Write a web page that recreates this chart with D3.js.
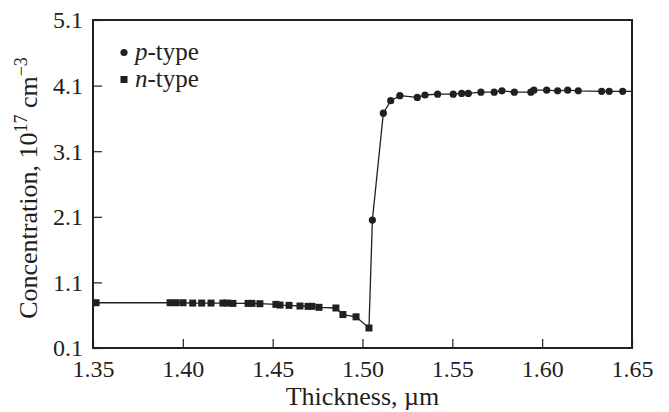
<!DOCTYPE html>
<html lang="en">
<head>
<meta charset="UTF-8">
<title>Concentration profile</title>
<script src="https://d3js.org/d3.v7.min.js"></script>
<style>
  body { margin: 0; background: #fff; }
</style>
</head>
<body>
<div id="chart"></div>
<script>
// tick values
const xTicks = [1.35, 1.40, 1.45, 1.50, 1.55, 1.60, 1.65];
const yTicks = [0.1, 1.1, 2.1, 3.1, 4.1, 5.1];

// n-type points (thickness in um, concentration in 1e17 cm^-3)
const nThickness = [1.3517, 1.3929, 1.3962, 1.4001, 1.4055, 1.4105, 1.4157, 1.4223, 1.4246, 1.4279,
                    1.4363, 1.4385, 1.4429, 1.4518, 1.4541, 1.4591, 1.4652, 1.4697, 1.4719, 1.4758,
                    1.4852, 1.4891, 1.4964, 1.5036];
const nConc = [0.79, 0.79, 0.79, 0.79, 0.785, 0.785, 0.785, 0.785, 0.785, 0.78,
               0.78, 0.78, 0.775, 0.765, 0.755, 0.75, 0.74, 0.735, 0.735, 0.72,
               0.71, 0.61, 0.575, 0.405];

// p-type points
const pThickness = [1.5055, 1.5116, 1.5157, 1.5208, 1.5305, 1.5348, 1.5418, 1.5505, 1.5552, 1.5589,
                    1.5659, 1.5733, 1.5776, 1.5845, 1.5937, 1.5954, 1.6025, 1.6086, 1.6142, 1.6201,
                    1.6331, 1.6373, 1.6448];
const pConc = [2.05, 3.68, 3.87, 3.946, 3.92, 3.957, 3.97, 3.97, 3.98, 3.98,
               4.0, 4.0, 4.02, 4.0, 4.0, 4.03, 4.03, 4.02, 4.03, 4.02,
               4.013, 4.013, 4.013];

const width = 669, height = 412;
const margin = {top: 20, right: 37, bottom: 64, left: 93};
const ink = "#231f20";
const serif = "'Liberation Serif', 'Times New Roman', Times, serif";

const svg = d3.select("#chart").append("svg")
    .attr("width", width)
    .attr("height", height)
    .attr("font-family", serif);

const x = d3.scaleLinear().domain([1.35, 1.65]).range([margin.left, width - margin.right]);
const y = d3.scaleLinear().domain([0.1, 5.1]).range([height - margin.bottom, margin.top]);

const nPts = nThickness.map((t, i) => ({t: t, c: nConc[i]}));
const pPts = pThickness.map((t, i) => ({t: t, c: pConc[i]}));

// one line through all points, running out to both frame edges
const linePts = [{t: x.domain()[0], c: nConc[0]}]
    .concat(nPts, pPts, [{t: x.domain()[1], c: pConc[pConc.length - 1]}]);

svg.append("path")
    .datum(linePts)
    .attr("fill", "none")
    .attr("stroke", ink)
    .attr("stroke-width", 1.3)
    .attr("d", d3.line().x(d => x(d.t)).y(d => y(d.c)));

// axes, ticks pointing inward
const xAxis = svg.append("g")
    .attr("transform", `translate(0,${height - margin.bottom})`)
    .call(d3.axisBottom(x).tickValues(xTicks).tickFormat(d3.format(".2f")).tickSizeInner(-9).tickSizeOuter(0));
xAxis.selectAll("text").attr("y", 29).attr("dy", 0);

const yAxis = svg.append("g")
    .attr("transform", `translate(${margin.left},0)`)
    .call(d3.axisLeft(y).tickValues(yTicks).tickFormat(d3.format(".1f")).tickSizeInner(-9).tickSizeOuter(0));
yAxis.selectAll("text").attr("x", -10).attr("dy", "0.33em");

svg.selectAll(".tick text")
    .attr("fill", ink)
    .attr("font-family", serif)
    .attr("font-size", 24);
xAxis.attr("font-family", serif).attr("font-size", 24);
yAxis.attr("font-family", serif).attr("font-size", 24);
svg.selectAll(".domain").remove();
svg.selectAll(".tick line").attr("stroke", ink).attr("stroke-width", 1.2);

// frame
svg.append("rect")
    .attr("x", margin.left)
    .attr("y", margin.top)
    .attr("width", width - margin.left - margin.right)
    .attr("height", height - margin.top - margin.bottom)
    .attr("fill", "none")
    .attr("stroke", ink)
    .attr("stroke-width", 2);

// markers
svg.append("g").selectAll("rect")
    .data(nPts)
    .join("rect")
    .attr("x", d => x(d.t) - 3.5)
    .attr("y", d => y(d.c) - 3.5)
    .attr("width", 7)
    .attr("height", 7)
    .attr("fill", ink);

svg.append("g").selectAll("circle")
    .data(pPts)
    .join("circle")
    .attr("cx", d => x(d.t))
    .attr("cy", d => y(d.c))
    .attr("r", 3.6)
    .attr("fill", ink);

// axis titles
svg.append("text")
    .attr("x", (margin.left + width - margin.right) / 2)
    .attr("y", 405)
    .attr("text-anchor", "middle")
    .attr("fill", ink)
    .attr("font-size", 26)
    .text("Thickness, \u00b5m");

const yTitle = svg.append("text")
    .attr("transform", `translate(37,${(margin.top + height - margin.bottom) / 2 + 4}) rotate(-90)`)
    .attr("text-anchor", "middle")
    .attr("fill", ink)
    .attr("font-size", 26);
yTitle.append("tspan").text("Concentration, 10");
yTitle.append("tspan").attr("dy", -10).attr("font-size", 18).text("17");
yTitle.append("tspan").attr("dy", 10).text(" cm");
yTitle.append("tspan").attr("dy", -10).attr("font-size", 18).text("\u22123");

// legend
const legend = svg.append("g").attr("transform", "translate(124,0)");
legend.append("circle").attr("cx", 0).attr("cy", 52.5).attr("r", 3.6).attr("fill", ink);
legend.append("rect").attr("x", -3.5).attr("y", 76).attr("width", 7).attr("height", 7).attr("fill", ink);

legend.append("text").attr("x", 11).attr("y", 60).attr("fill", ink).attr("font-size", 25)
    .html("<tspan font-style='italic'>p</tspan>-type");
legend.append("text").attr("x", 11).attr("y", 87).attr("fill", ink).attr("font-size", 25)
    .html("<tspan font-style='italic'>n</tspan>-type");
</script>
</body>
</html>
